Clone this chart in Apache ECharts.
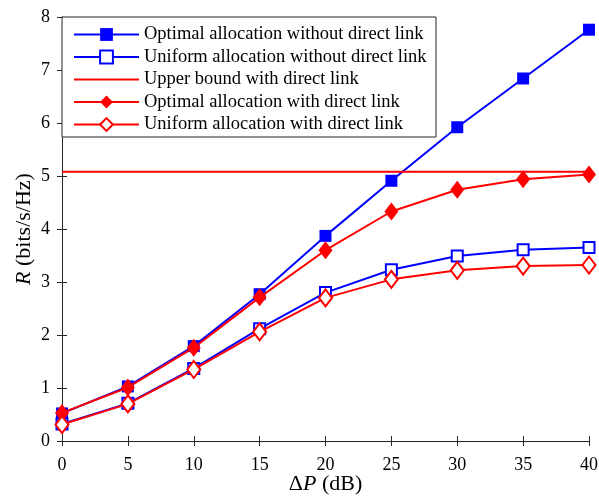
<!DOCTYPE html>
<html>
<head>
<meta charset="utf-8">
<script src="https://cdn.jsdelivr.net/npm/echarts@6/dist/echarts.min.js"></script>
<style>html,body{margin:0;padding:0;background:#fff}#c{width:599px;height:502px}</style>
</head>
<body>
<div id="c"></div>
<script>
var xValues = [0, 5, 10, 15, 20, 25, 30, 35, 40];
var optimalNoDirect = [0.52, 1.03, 1.79, 2.77, 3.87, 4.91, 5.92, 6.84, 7.76];
var uniformNoDirect = [0.32, 0.71, 1.37, 2.12, 2.80, 3.23, 3.49, 3.61, 3.65];
var upperBoundDirect = 5.08;
var optimalDirect = [0.53, 1.01, 1.76, 2.71, 3.60, 4.33, 4.74, 4.94, 5.03];
var uniformDirect = [0.31, 0.70, 1.35, 2.06, 2.70, 3.05, 3.22, 3.30, 3.32];
var seriesNames = [
  'Optimal allocation without direct link',
  'Uniform allocation without direct link',
  'Upper bound with direct link',
  'Optimal allocation with direct link',
  'Uniform allocation with direct link'
];
var xTicks = [0, 5, 10, 15, 20, 25, 30, 35, 40];
var yTicks = [0, 1, 2, 3, 4, 5, 6, 7, 8];

function pairs(ys) { return xValues.map(function (x, i) { return [x, ys[i]]; }); }

var FONT = 'Liberation Serif';
var AX = '#262626';
var BLUE = '#0000ff';
var RED = '#ff0000';

var chart = echarts.init(document.getElementById('c'), null, {renderer: 'canvas'});
var axisCommon = {
  axisLine: {show: true, lineStyle: {color: AX, width: 1}},
  axisTick: {show: true, inside: true, length: 5, lineStyle: {color: AX}},
  splitLine: {show: false}
};
chart.setOption({
  animation: false,
  backgroundColor: '#fff',
  grid: {left: 62, right: 10, top: 17, bottom: 61, containLabel: false, outerBoundsMode: 'none'},
  xAxis: [
    Object.assign({
      type: 'value', min: xTicks[0], max: xTicks[xTicks.length - 1], interval: 5, position: 'bottom',
      axisLabel: {color: '#000', fontFamily: FONT, fontSize: 18, margin: 15},
      name: '{d|Δ}{i|P}{d| (dB)}', nameLocation: 'middle', nameGap: 32, nameMoveOverlap: false,
      nameTextStyle: {rich: {
        d: {fontFamily: FONT, fontSize: 22, color: '#000'},
        i: {fontFamily: FONT, fontSize: 22, fontStyle: 'italic', color: '#000'}
      }}
    }, axisCommon),
    Object.assign({
      type: 'value', min: xTicks[0], max: xTicks[xTicks.length - 1], interval: 5, position: 'top',
      axisLabel: {show: false}
    }, axisCommon)
  ],
  yAxis: [
    Object.assign({
      type: 'value', min: yTicks[0], max: yTicks[yTicks.length - 1], interval: 1, position: 'left',
      axisLabel: {color: '#000', fontFamily: FONT, fontSize: 18, margin: 12},
      name: '{i|R}{d| (bits/s/Hz)}', nameLocation: 'middle', nameGap: 27, nameRotate: 90, nameMoveOverlap: false,
      nameTextStyle: {rich: {
        d: {fontFamily: FONT, fontSize: 22, color: '#000'},
        i: {fontFamily: FONT, fontSize: 22, fontStyle: 'italic', color: '#000'}
      }}
    }, axisCommon),
    Object.assign({
      type: 'value', min: yTicks[0], max: yTicks[yTicks.length - 1], interval: 1, position: 'right',
      axisLabel: {show: false}
    }, axisCommon)
  ],
  legend: {
    orient: 'vertical', left: 68, top: 20, itemWidth: 65, itemHeight: 16, itemGap: 3.5,
    textStyle: {fontFamily: FONT, fontSize: 18.5, color: '#000', padding: [0, 0, 0, 0]},
    data: [
      seriesNames[0], seriesNames[1],
      {name: seriesNames[2], itemStyle: {opacity: 0, borderWidth: 0}},
      seriesNames[3], seriesNames[4]
    ],
    selectedMode: false
  },
  graphic: [{
    type: 'rect', z: 3, shape: {x: 62, y: 17, width: 374, height: 120},
    style: {fill: '#fff', stroke: AX, lineWidth: 1}
  }],
  series: [
    {name: seriesNames[0], type: 'line', data: pairs(optimalNoDirect), symbol: 'rect', symbolSize: 12,
      lineStyle: {color: BLUE, width: 2}, itemStyle: {color: BLUE}, z: 3},
    {name: seriesNames[1], type: 'line', data: pairs(uniformNoDirect), symbol: 'emptyRect', symbolSize: 11,
      lineStyle: {color: BLUE, width: 2}, itemStyle: {color: BLUE, borderWidth: 2}, z: 3},
    {name: seriesNames[2], type: 'line', data: [[xTicks[0], upperBoundDirect], [xTicks[xTicks.length - 1], upperBoundDirect]], symbol: 'none', showSymbol: false,
      lineStyle: {color: RED, width: 2}, itemStyle: {color: RED}, z: 4},
    {name: seriesNames[3], type: 'line', data: pairs(optimalDirect), symbol: 'diamond', symbolSize: [14, 18],
      lineStyle: {color: RED, width: 2}, itemStyle: {color: RED}, z: 4},
    {name: seriesNames[4], type: 'line', data: pairs(uniformDirect), symbol: 'emptyDiamond', symbolSize: [13, 17],
      lineStyle: {color: RED, width: 2}, itemStyle: {color: RED, borderWidth: 2}, z: 4}
  ]
});
</script>
</body>
</html>
